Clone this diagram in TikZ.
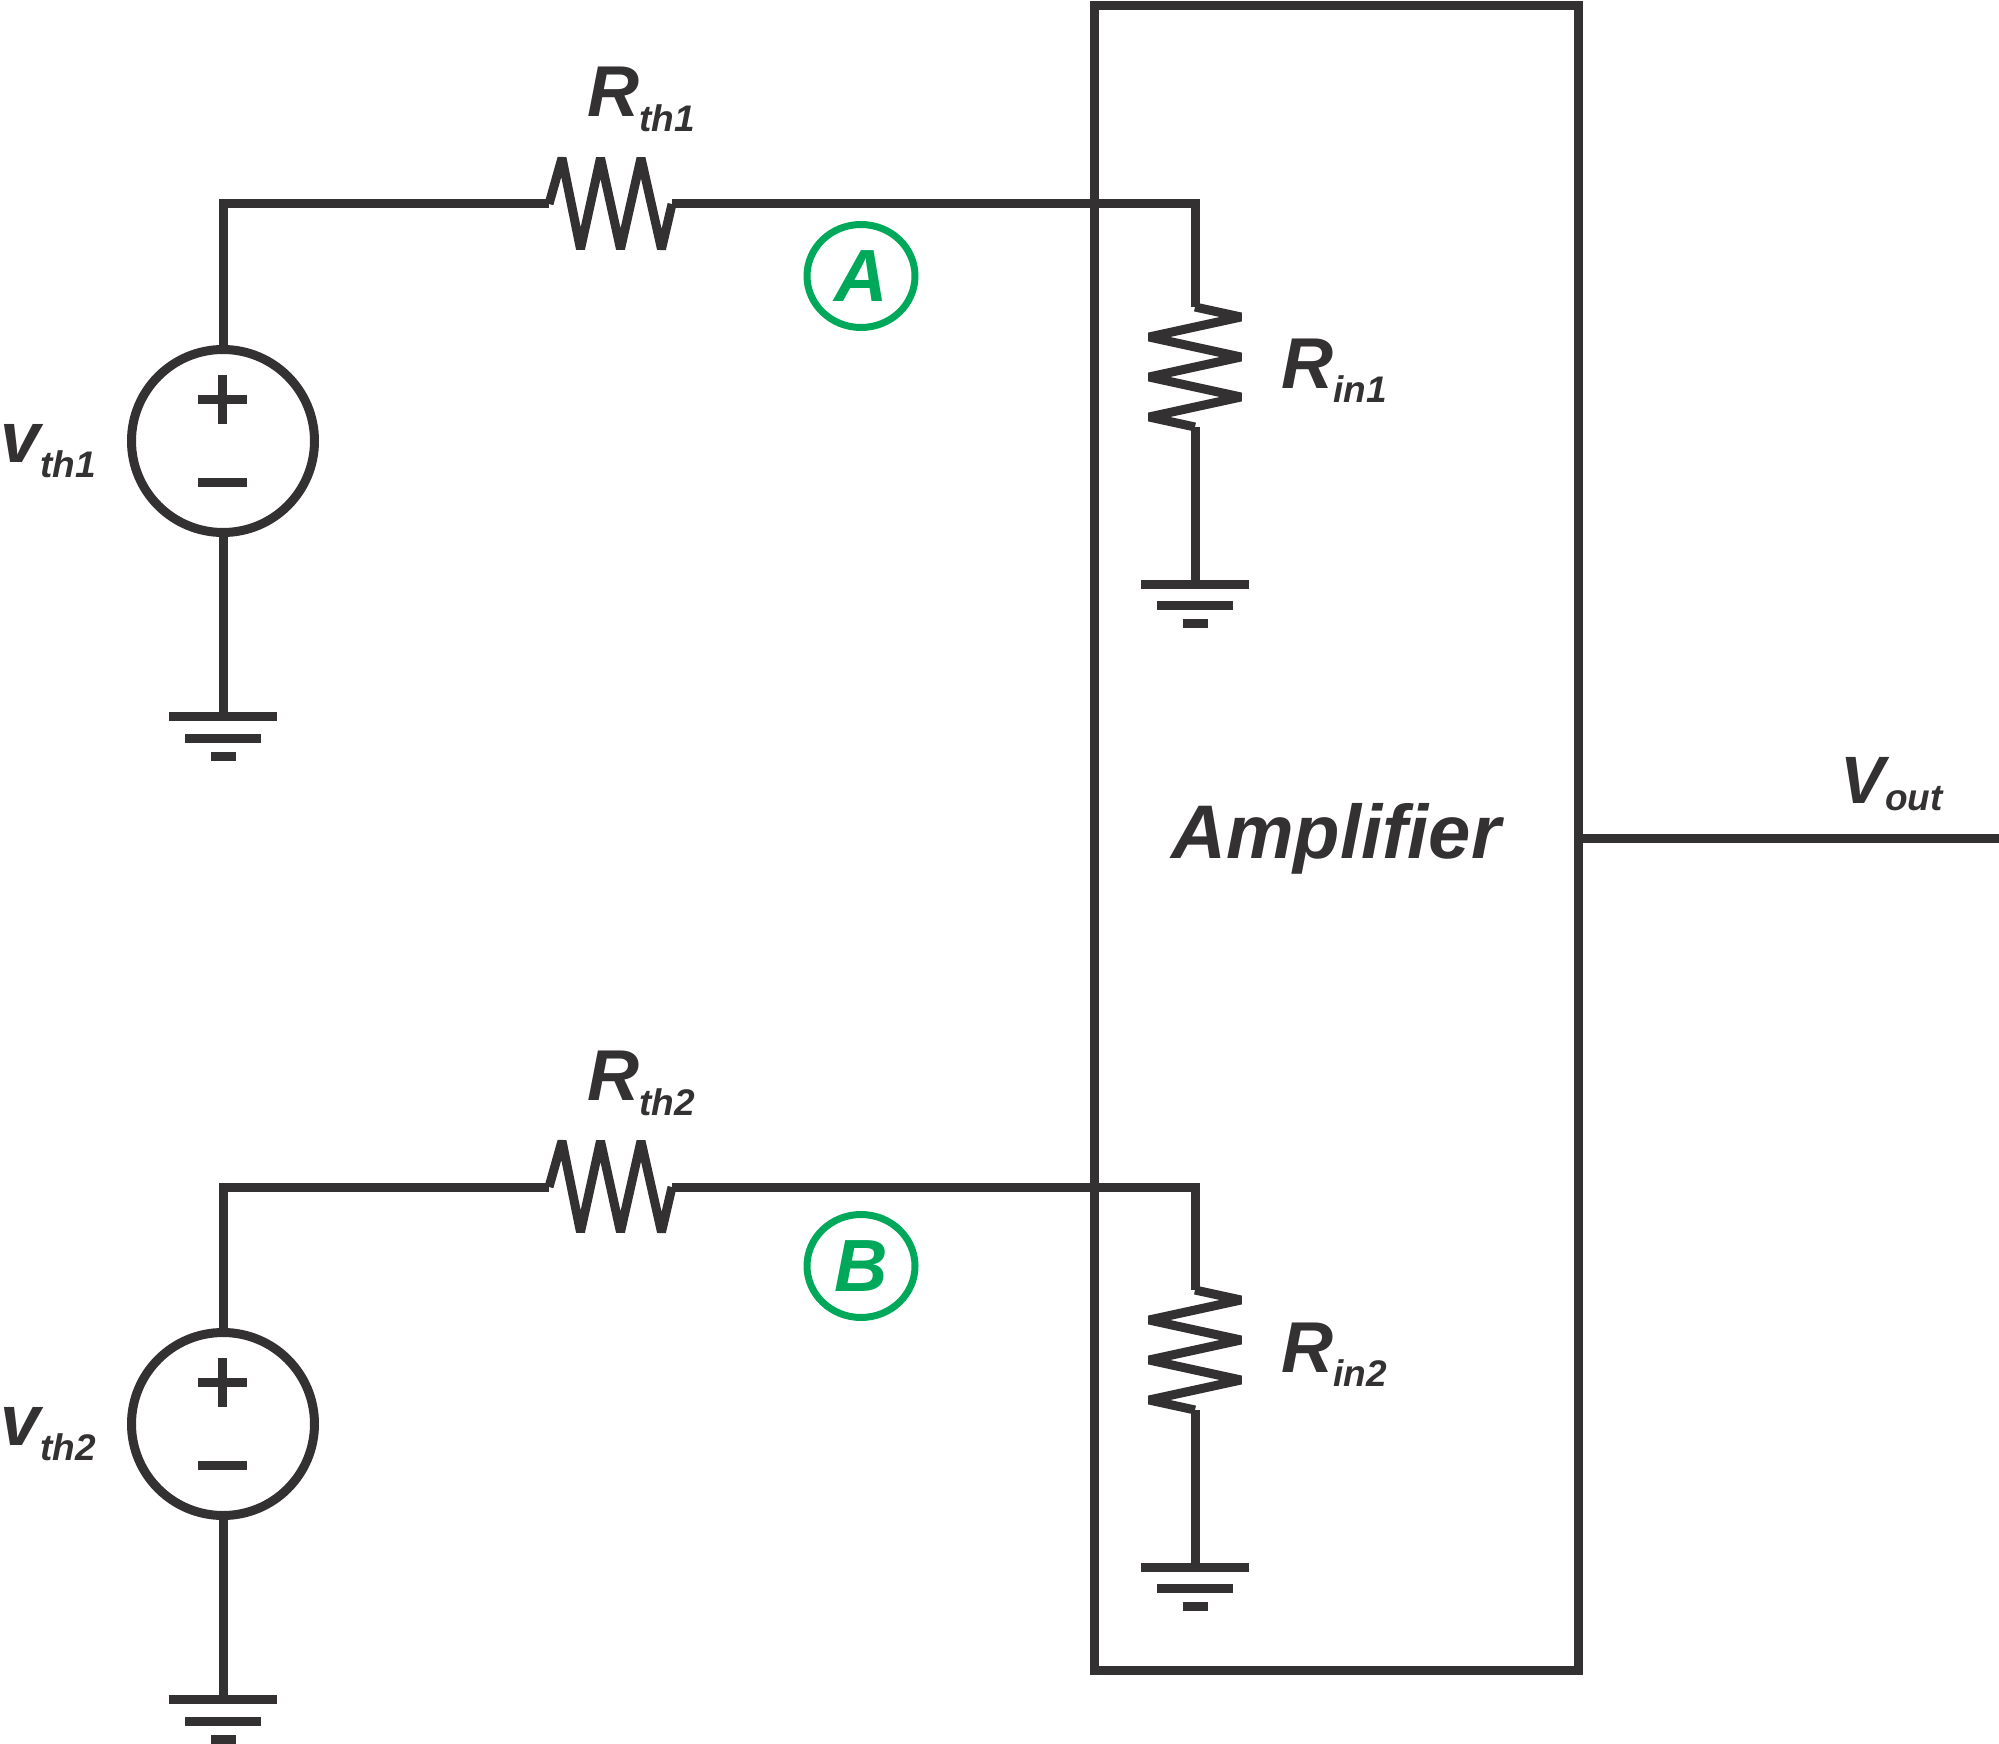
\documentclass[tikz,border=0pt]{standalone}
\usepackage{fontspec}
\usetikzlibrary{shapes.geometric}
\setmainfont{Liberation Sans}
\definecolor{wire}{RGB}{51,49,50}
\definecolor{mark}{RGB}{0,168,89}
\newcommand{\lowsub}[2]{\raisebox{-#2}{\fontsize{18.5}{19}\selectfont #1}}
\begin{document}
\begin{tikzpicture}[x=.5pt,y=-.5pt,color=wire,line width=4.5pt]
    \tikzset{
        src/.style={circle,draw,minimum size=91.5pt,inner sep=0pt},
        tag/.style={ellipse,draw=mark,text=mark,line width=3.5pt,minimum width=54pt,minimum height=51.5pt,
            inner sep=0pt,font=\bfseries\itshape\fontsize{37}{37}\selectfont},
        lbl/.style={anchor=base west,inner sep=0pt,font=\bfseries\itshape\fontsize{36}{36}\selectfont}
    }
    \useasboundingbox (0,0) rectangle (1999,1744);
    \def\gnd#1#2{\draw (#1-54,#2) -- (#1+54,#2) (#1-38,#2+21.5) -- (#1+38,#2+21.5)
        (#1-12.5,#2+39.5) -- (#1+12.5,#2+39.5);}
    \def\channel#1#2#3#4{% #1 index, #2 shift down, #3 tag, #4 tag height
        \node[src] (vs#1) at (223,441+#2) {};
        \draw (198,399.5+#2) -- (247,399.5+#2) (222.5,375+#2) -- (222.5,424+#2)
            (198,482+#2) -- (247,482+#2);
        \coordinate (ra#1) at (549,204+#2);
        \coordinate (rb#1) at (672,204+#2);
        \coordinate (rc#1) at (1195,307+#2);
        \coordinate (rd#1) at (1195,427+#2);
        \coordinate (gs#1) at (223,716.5+#2);
        \coordinate (gr#1) at (1195,584+#2);
        \draw (vs#1) |- (ra#1);
        \draw[line join=bevel] (ra#1) -- ++(13,-46) -- ++(18.5,91) -- ++(20,-91) -- ++(20,91)
            -- ++(20.5,-91) -- ++(20.5,91) -- (rb#1);
        \draw (rb#1) -| (rc#1);
        \draw[line join=bevel] (rc#1) -- ++(46,10) -- ++(-92,20) -- ++(92,20) -- ++(-92,20)
            -- ++(92,20) -- ++(-92,20) -- (rd#1);
        \draw (rd#1) -- (gr#1);
        \draw (vs#1) -- (gs#1);
        \gnd{223}{716.5+#2}
        \gnd{1195}{584+#2}
        \node[tag] (tag#1) at (861,#4) {#3};
        \node[lbl] (lrth#1) at (583,117+#2) {R\lowsub{th#1}{7.5pt}};
        \node[lbl] (lrin#1) at (1277,389+#2) {R\lowsub{in#1}{7pt}};
        \node[lbl] (lvth#1) at (-4,462+#2) {v\lowsub{th#1}{7.5pt}};
    }
    \channel{1}{0}{A}{276}
    \channel{2}{983}{B}{1266}
    % amplifier block
    \node[draw,minimum width=242pt,minimum height=832.25pt,inner sep=0pt] (amp) at (1336.5,837.75) {};
    \node[anchor=base,inner sep=0pt,font=\bfseries\itshape\fontsize{38}{38}\selectfont]
        (ampname) at (1336,858) {Amplifier};
    \coordinate (out) at (1999,838);
    \draw (out -| amp.east) -- (out);
    \node[lbl,font=\bfseries\itshape\fontsize{33.5}{34}\selectfont] (lvout) at (1836,803) {V\lowsub{out}{3.5pt}};
\end{tikzpicture}
\end{document}
